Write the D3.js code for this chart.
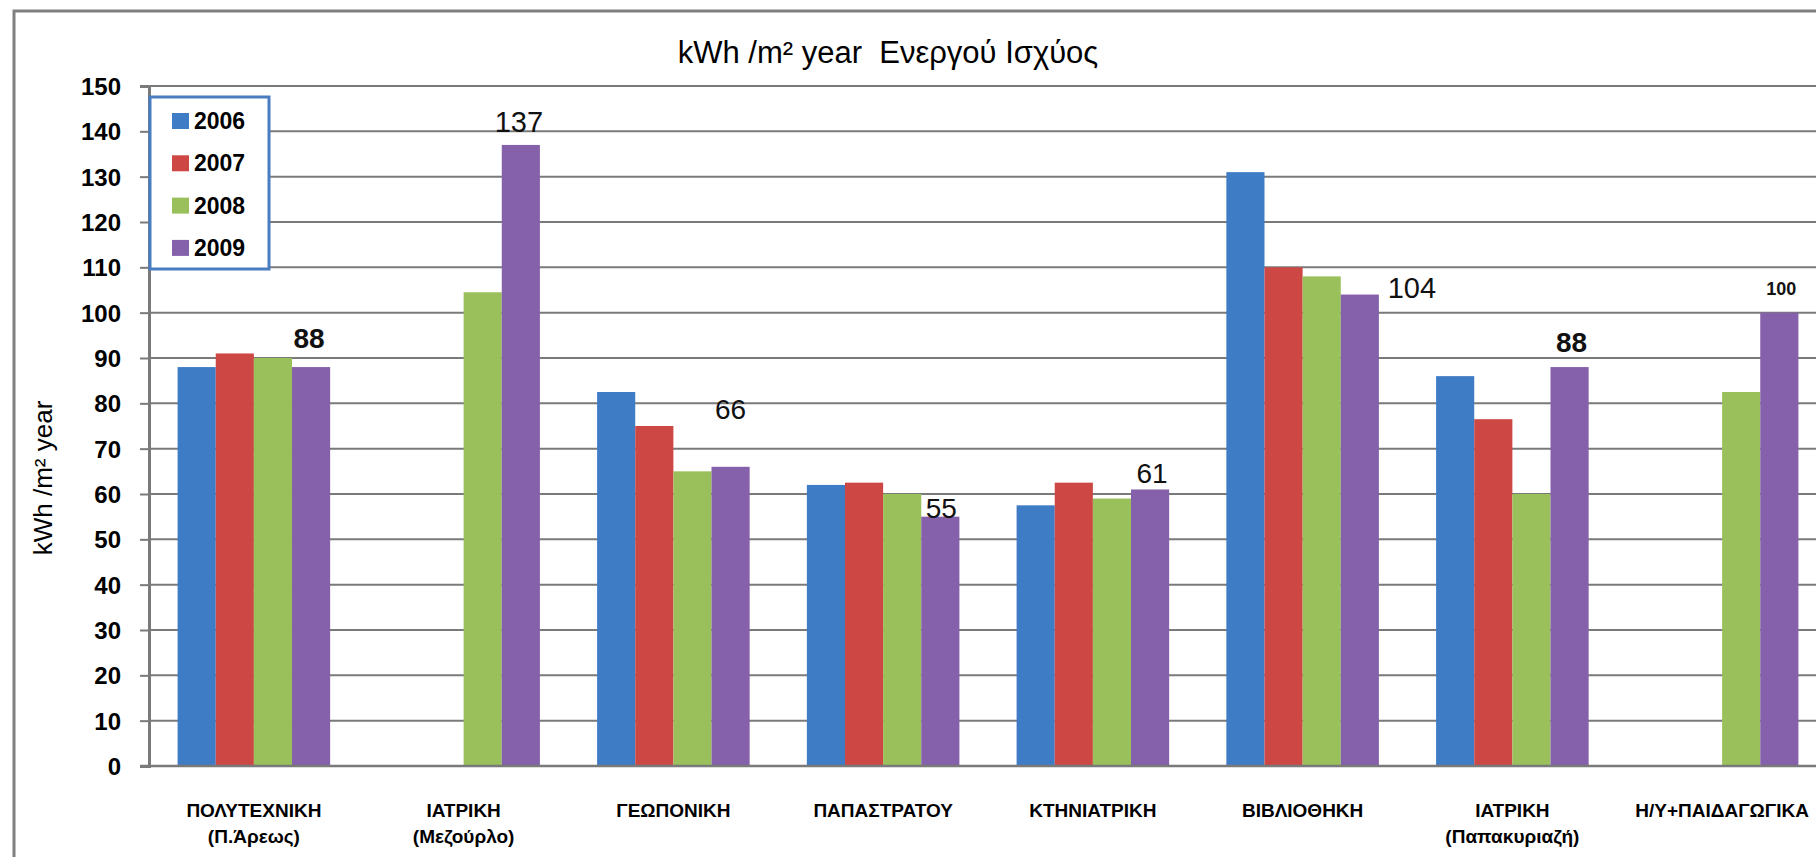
<!DOCTYPE html>
<html>
<head>
<meta charset="utf-8">
<script src="https://cdn.jsdelivr.net/npm/d3@7"></script>
<style>
  html, body { margin: 0; padding: 0; background: #ffffff; }
  svg { display: block; }
</style>
</head>
<body>
<svg id="chart" width="1816" height="857"></svg>
<script>
// Building names (first line) and locations (second line)
const categories = ["ΠΟΛΥΤΕΧΝΙΚΗ", "ΙΑΤΡΙΚΗ", "ΓΕΩΠΟΝΙΚΗ", "ΠΑΠΑΣΤΡΑΤΟΥ", "ΚΤΗΝΙΑΤΡΙΚΗ", "ΒΙΒΛΙΟΘΗΚΗ", "ΙΑΤΡΙΚΗ", "Η/Υ+ΠΑΙΔΑΓΩΓΙΚΑ"];
const subLabels = ["(Π.Άρεως)", "(Μεζούρλο)", "", "", "", "", "(Παπακυριαζή)", ""];
const years = ["2006", "2007", "2008", "2009"];

// kWh / m² year per building (null = no measurement)
const values2006 = [88, null, 82.5, 62, 57.5, 131, 86, null];
const values2007 = [91, null, 75, 62.5, 62.5, 110, 76.5, null];
const values2008 = [90, 104.5, 65, 60, 59, 108, 60, 82.5];
const values2009 = [88, 137, 66, 55, 61, 104, 88, 100];

const yTicks = [0, 10, 20, 30, 40, 50, 60, 70, 80, 90, 100, 110, 120, 130, 140, 150];

const titleText = "kWh /m² year  Ενεργού Ισχύος";
const yTitleText = "kWh /m² year";

const seriesValues = [values2006, values2007, values2008, values2009];
const colors = ["#3f7cc6", "#cd4744", "#99c05a", "#8560ab"];

// Placement of the value labels on the 2009 bars (offset from the bar top)
const labelStyle = [
  { dx: -2, dy: -19, size: 28, weight: "bold" },
  { dx: -2, dy: -13, size: 29, weight: "normal" },
  { dx: 0, dy: -48, size: 28, weight: "normal" },
  { dx: 1, dy: 1, size: 28, weight: "normal" },
  { dx: 2, dy: -6, size: 28, weight: "normal" },
  { dx: 52, dy: 3, size: 29, weight: "normal" },
  { dx: 2, dy: -15, size: 28, weight: "bold" },
  { dx: 2, dy: -18, size: 18, weight: "bold" }
];

const svg = d3.select("#chart");
const W = 1816, H = 857;
const plot = { left: 149, right: 1827, top: 86, bottom: 766 };
const font = "'Liberation Sans', Arial, sans-serif";
const gridColor = "#7a7a7a";

svg.append("rect").attr("width", W).attr("height", H).attr("fill", "#ffffff");

// chart frame (only its top and left edges fall inside the view)
svg.append("rect")
  .attr("x", 14).attr("y", 11)
  .attr("width", 2000).attr("height", 1000)
  .attr("fill", "#ffffff")
  .attr("stroke", "#808080").attr("stroke-width", 3);

const y = d3.scaleLinear().domain([0, 150]).range([plot.bottom, plot.top]);
const x0 = d3.scaleBand().domain(d3.range(categories.length)).range([plot.left, plot.right]);
const gap = x0.bandwidth() * 1.5 / 5.5;
const x1 = d3.scaleBand().domain(years).range([gap / 2, x0.bandwidth() - gap / 2]);

// horizontal gridlines
svg.append("g")
  .selectAll("line")
  .data(yTicks)
  .join("line")
  .attr("x1", plot.left).attr("x2", W)
  .attr("y1", d => y(d)).attr("y2", d => y(d))
  .attr("stroke", gridColor).attr("stroke-width", 2);

// y axis with tick labels
const yAxis = svg.append("g")
  .attr("transform", `translate(${plot.left},0)`)
  .call(d3.axisLeft(y).tickValues(yTicks).tickSize(9).tickPadding(19).tickFormat(d3.format("d")));
yAxis.select(".domain").attr("stroke", gridColor).attr("stroke-width", 3);
yAxis.selectAll(".tick line").attr("stroke", gridColor).attr("stroke-width", 2);
yAxis.selectAll(".tick text")
  .attr("font-family", font).attr("font-size", 24).attr("font-weight", "bold")
  .attr("fill", "#000").attr("dy", "0.36em");

// bars
const groups = svg.append("g")
  .selectAll("g")
  .data(categories.map((c, i) => i))
  .join("g")
  .attr("transform", i => `translate(${x0(i)},0)`);

groups.selectAll("rect")
  .data(i => years.map((yr, s) => ({ yr, s, v: seriesValues[s][i] })).filter(d => d.v != null))
  .join("rect")
  .attr("x", d => x1(d.yr))
  .attr("width", x1.bandwidth())
  .attr("y", d => y(d.v))
  .attr("height", d => y(0) - y(d.v))
  .attr("fill", d => colors[d.s]);

// zero line over bar bases
svg.append("line")
  .attr("x1", plot.left - 9).attr("x2", W)
  .attr("y1", y(0)).attr("y2", y(0))
  .attr("stroke", gridColor).attr("stroke-width", 2.5);

// value labels for 2009
svg.append("g")
  .selectAll("text")
  .data(values2009.map((v, i) => ({ v, i })))
  .join("text")
  .attr("x", d => x0(d.i) + x1("2009") + x1.bandwidth() / 2 + labelStyle[d.i].dx)
  .attr("y", d => y(d.v) + labelStyle[d.i].dy)
  .attr("text-anchor", "middle")
  .attr("font-family", font)
  .attr("font-size", d => labelStyle[d.i].size)
  .attr("font-weight", d => labelStyle[d.i].weight)
  .attr("fill", "#111")
  .text(d => d.v);

// category labels
const xl = svg.append("g")
  .selectAll("g")
  .data(categories.map((c, i) => i))
  .join("g")
  .attr("transform", i => `translate(${x0(i) + x0.bandwidth() / 2},0)`);
xl.append("text")
  .attr("y", 817)
  .attr("text-anchor", "middle")
  .attr("font-family", font).attr("font-size", 19).attr("font-weight", "bold")
  .attr("fill", "#000")
  .text(i => categories[i]);
xl.append("text")
  .attr("y", 843)
  .attr("text-anchor", "middle")
  .attr("font-family", font).attr("font-size", 19).attr("font-weight", "bold")
  .attr("fill", "#000")
  .text(i => subLabels[i]);

// chart title
svg.append("text")
  .attr("x", 888).attr("y", 63)
  .attr("text-anchor", "middle")
  .style("white-space", "pre")
  .attr("font-family", font).attr("font-size", 31)
  .attr("fill", "#000")
  .text(titleText);

// y axis title
svg.append("text")
  .attr("transform", "translate(52,478) rotate(-90)")
  .attr("text-anchor", "middle")
  .attr("font-family", font).attr("font-size", 26)
  .attr("fill", "#000")
  .text(yTitleText);

// legend
const legend = svg.append("g");
legend.append("rect")
  .attr("x", 150).attr("y", 97).attr("width", 119).attr("height", 172)
  .attr("fill", "#ffffff").attr("stroke", "#4a7cc0").attr("stroke-width", 3);
const li = legend.selectAll("g.item")
  .data(years)
  .join("g")
  .attr("class", "item")
  .attr("transform", (d, i) => `translate(172,${121 + i * 42.3})`);
li.append("rect")
  .attr("x", 0).attr("y", -8).attr("width", 17).attr("height", 16)
  .attr("fill", (d, i) => colors[i]);
li.append("text")
  .attr("x", 22).attr("y", 8)
  .attr("font-family", font).attr("font-size", 23).attr("font-weight", "bold")
  .attr("fill", "#000")
  .text(d => d);
</script>
</body>
</html>
